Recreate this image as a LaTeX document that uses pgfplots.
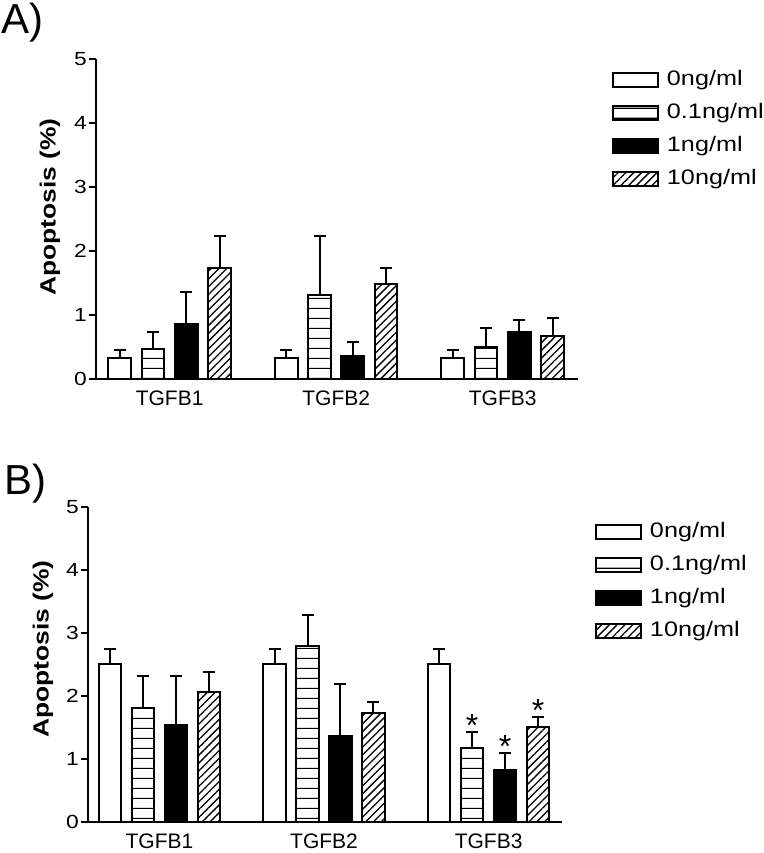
\documentclass[border=0pt]{standalone}
\usepackage{fontspec}
\setmainfont{Liberation Sans}
\newfontfamily\widefont[FakeStretch=1.2]{Liberation Sans}
\usepackage{graphicx}
\usepackage{pgfplots}
\pgfplotsset{compat=1.18}
\usetikzlibrary{patterns,patterns.meta}

\pgfdeclarepatternformonly{hl}{\pgfpoint{0bp}{0bp}}{\pgfpoint{10bp}{10bp}}{\pgfpoint{10bp}{10bp}}{%
  \pgfsetlinewidth{1.1bp}%
  \pgfpathmoveto{\pgfpoint{-1bp}{5bp}}\pgfpathlineto{\pgfpoint{11bp}{5bp}}\pgfusepath{stroke}}

\pgfplotsset{
  apop/.style={
    scale only axis,
    ybar, ymin=0, ymax=5, ytick={0,1,2,3,4,5},
    xtick={1.5,6.5,11.5}, xticklabels={TGFB1,TGFB2,TGFB3},
    axis x line*=bottom, axis y line*=left,
    axis line style={line width=2bp, -},
    x tick style={draw=none},
    y tick style={line width=2bp, black},
    tick align=outside, major tick length=7bp,
    /pgf/number format/assume math mode=true,
    yticklabel style={font=\widefont\fontsize{19bp}{20bp}\selectfont, inner sep=2bp},
    xticklabel style={font=\fontsize{21bp}{22bp}\selectfont, inner sep=0pt, yshift=-5bp},
    ylabel={Apoptosis (\%)},
    bar width=0.68, clip=false,
    legend image code/.code={\draw[#1, line width=2bp] (0bp,-7bp) rectangle (45bp,7bp);},
    legend cell align=left,
    legend style={draw=none, fill=none, inner sep=0pt, outer sep=0pt, anchor=north west,
      font=\widefont\fontsize{21bp}{21bp}\selectfont, row sep=12bp,
      nodes={inner sep=0pt, text height=16bp, text depth=5bp},
      /tikz/every odd column/.append style={column sep=8bp}},
  },
  s0/.style={draw=black, fill=white, line width=2bp, bar shift=0pt},
  s1/.style={draw=black, fill=white, line width=2bp, bar shift=0pt,
    postaction={pattern=hl, pattern color=black}},
  s2/.style={draw=black, fill=black, line width=2bp, bar shift=0pt},
  s3/.style={draw=black, fill=white, line width=2bp, bar shift=0pt,
    postaction={pattern={Lines[angle=45,distance=5.5bp,line width=1.3bp]}, pattern color=black}},
  errs/.style={error bars/.cd, y dir=plus, y explicit,
    error bar style={line width=2bp, black},
    error mark options={rotate=90, mark size=6bp, line width=2bp, black}},
}

\begin{document}
\begin{tikzpicture}
\useasboundingbox (0,0) rectangle (764bp,853bp);
\node[anchor=base west, inner sep=0pt] at (1bp,819bp) {\fontsize{42bp}{42bp}\selectfont A)};
\node[anchor=base west, inner sep=0pt] at (4bp,358bp) {\fontsize{42bp}{42bp}\selectfont B)};

% Panel A
\begin{axis}[apop, at={(96bp,474bp)}, anchor=south west,
  width=482bp, height=320bp, xmin=-0.71, xmax=13.76,
  every axis y label/.style={at={(axis description cs:-0.0954,0.5375)}, rotate=90, anchor=center,
    font=\widefont\bfseries\fontsize{22bp}{22bp}\selectfont},
  legend style={at={(1.0705,0.967)}}]
\addplot[s0, errs] coordinates {(0,0.33) +- (0,0.12) (5,0.33) +- (0,0.12) (10,0.33) +- (0,0.12)};
\addplot[s1, errs] coordinates {(1,0.47) +- (0,0.26) (6,1.31) +- (0,0.93) (11,0.50) +- (0,0.30)};
\addplot[s2, errs] coordinates {(2,0.86) +- (0,0.50) (7,0.36) +- (0,0.22) (12,0.73) +- (0,0.19)};
\addplot[s3, errs] coordinates {(3,1.73) +- (0,0.50) (8,1.48) +- (0,0.25) (13,0.67) +- (0,0.28)};
\legend{0ng/ml, 0.1ng/ml, 1ng/ml, 10ng/ml}
\end{axis}

% Panel B
\begin{axis}[apop, at={(88bp,31bp)}, anchor=south west,
  width=474bp, height=315bp, xmin=-0.67, xmax=13.73,
  every axis y label/.style={at={(axis description cs:-0.095,0.549)}, rotate=90, anchor=center,
    font=\widefont\bfseries\fontsize{22bp}{22bp}\selectfont},
  legend style={at={(1.0696,0.954)}}]
\addplot[s0, errs] coordinates {(0,2.50) +- (0,0.25) (5,2.50) +- (0,0.25) (10,2.50) +- (0,0.25)};
\addplot[s1, errs] coordinates {(1,1.81) +- (0,0.50) (6,2.80) +- (0,0.48) (11,1.17) +- (0,0.26)};
\addplot[s2, errs] coordinates {(2,1.54) +- (0,0.77) (7,1.36) +- (0,0.83) (12,0.83) +- (0,0.27)};
\addplot[s3, errs] coordinates {(3,2.07) +- (0,0.31) (8,1.73) +- (0,0.18) (13,1.50) +- (0,0.17)};
\legend{0ng/ml, 0.1ng/ml, 1ng/ml, 10ng/ml}
\addplot[only marks, mark=none, forget plot, nodes near coords={*},
  every node near coord/.style={anchor=base, inner sep=0pt, yshift=-5bp,
    font=\fontsize{32bp}{32bp}\selectfont}]
  coordinates {(11,1.43) (12,1.10) (13,1.67)};
\end{axis}
\end{tikzpicture}
\end{document}
